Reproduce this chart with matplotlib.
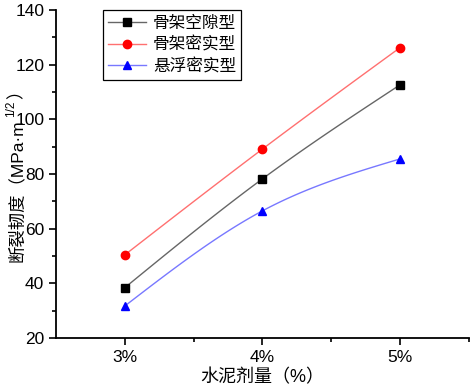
import numpy as np
import matplotlib
matplotlib.use("Agg")
import matplotlib.pyplot as plt
from matplotlib.transforms import IdentityTransform

plt.rcParams['font.family'] = ['Liberation Sans', 'Noto Sans CJK SC', 'DejaVu Sans']

# data
dosage = [3, 4, 5]
dosage_labels = ["3%", "4%", "5%"]
skeleton_void = [38.4, 78.2, 112.6]     # 骨架空隙型
skeleton_dense = [50.4, 89.1, 126.2]    # 骨架密实型
suspend_dense = [31.7, 66.5, 85.5]      # 悬浮密实型


def natural_spline(x, y, n=60):
    # natural cubic spline through the points, for the smooth connecting line
    x = np.asarray(x, float)
    y = np.asarray(y, float)
    m = len(x)
    h = np.diff(x)
    A = np.zeros((m, m))
    b = np.zeros(m)
    A[0, 0] = A[-1, -1] = 1
    for i in range(1, m - 1):
        A[i, i - 1] = h[i - 1]
        A[i, i] = 2 * (h[i - 1] + h[i])
        A[i, i + 1] = h[i]
        b[i] = 6 * ((y[i + 1] - y[i]) / h[i] - (y[i] - y[i - 1]) / h[i - 1])
    M = np.linalg.solve(A, b)
    xs, ys = [], []
    for i in range(m - 1):
        t = np.linspace(x[i], x[i + 1], n)
        s = (M[i] * (x[i + 1] - t) ** 3 / (6 * h[i]) + M[i + 1] * (t - x[i]) ** 3 / (6 * h[i])
             + (y[i] / h[i] - M[i] * h[i] / 6) * (x[i + 1] - t)
             + (y[i + 1] / h[i] - M[i + 1] * h[i] / 6) * (t - x[i]))
        xs.append(t)
        ys.append(s)
    return np.concatenate(xs), np.concatenate(ys)


fig = plt.figure(figsize=(4.72, 3.87), dpi=100)
ax = fig.add_axes([0.1186, 0.1266, 0.875, 0.848])

series = [
    (skeleton_void, "骨架空隙型", "s", "black", "#666666"),
    (skeleton_dense, "骨架密实型", "o", "red", "#ff7070"),
    (suspend_dense, "悬浮密实型", "^", "blue", "#7878ff"),
]
for vals, name, mk, mcol, lcol in series:
    sx, sy = natural_spline(dosage, vals)
    ax.plot(sx, sy, color=lcol, lw=1.0)
    ax.plot(dosage, vals, linestyle="none", marker=mk, color=mcol, ms=6)
    ax.plot([], [], color=lcol, lw=1.0, marker=mk, mfc=mcol, mec=mcol, ms=6, label=name)

ax.set_xlim(2.5, 5.5)
ax.set_ylim(20, 140)
ax.set_xticks(dosage)
ax.set_xticklabels(dosage_labels)
ax.set_xticks([3.5, 4.5, 5.5], minor=True)
ax.set_yticks(np.arange(20, 141, 20))
ax.set_yticks(np.arange(30, 140, 20), minor=True)
ax.tick_params(which="major", direction="out", length=5, width=1.2, labelsize=12.5)
ax.tick_params(which="minor", direction="out", length=3, width=1.2)
for side in ("top", "right"):
    ax.spines[side].set_visible(False)
for side in ("left", "bottom"):
    ax.spines[side].set_linewidth(1.3)

ax.set_xlabel("水泥剂量（%）", fontsize=13)
ax.xaxis.set_label_coords(0.5, -0.095)

# y label: CJK text plus a superscript 1/2, built from three rotated pieces
fig.canvas.draw()
rend = fig.canvas.get_renderer()
ylab_x, ylab_y = 16, 125
t1 = fig.text(ylab_x, ylab_y, "断裂韧度（MPa·m", rotation=90, ha="center", va="bottom",
              fontsize=12.5, transform=IdentityTransform())
bb = t1.get_window_extent(rend)
t2 = fig.text(ylab_x - 5, bb.y1 + 2, "1/2", rotation=90, ha="center", va="bottom",
              fontsize=8.5, transform=IdentityTransform())
bb2 = t2.get_window_extent(rend)
fig.text(ylab_x, bb2.y1 + 2, "）", rotation=90, ha="center", va="bottom",
         fontsize=12.5, transform=IdentityTransform())

leg = ax.legend(loc="upper left", bbox_to_anchor=(0.114, 1.0), borderaxespad=0,
                fancybox=False, edgecolor="black", framealpha=1, handlelength=2.3,
                handletextpad=0.4, prop={'family': 'Noto Sans CJK SC', 'size': 12},
                labelspacing=0.28, borderpad=0.3)
leg.get_frame().set_linewidth(0.9)

fig.savefig("out.png", dpi=100)
